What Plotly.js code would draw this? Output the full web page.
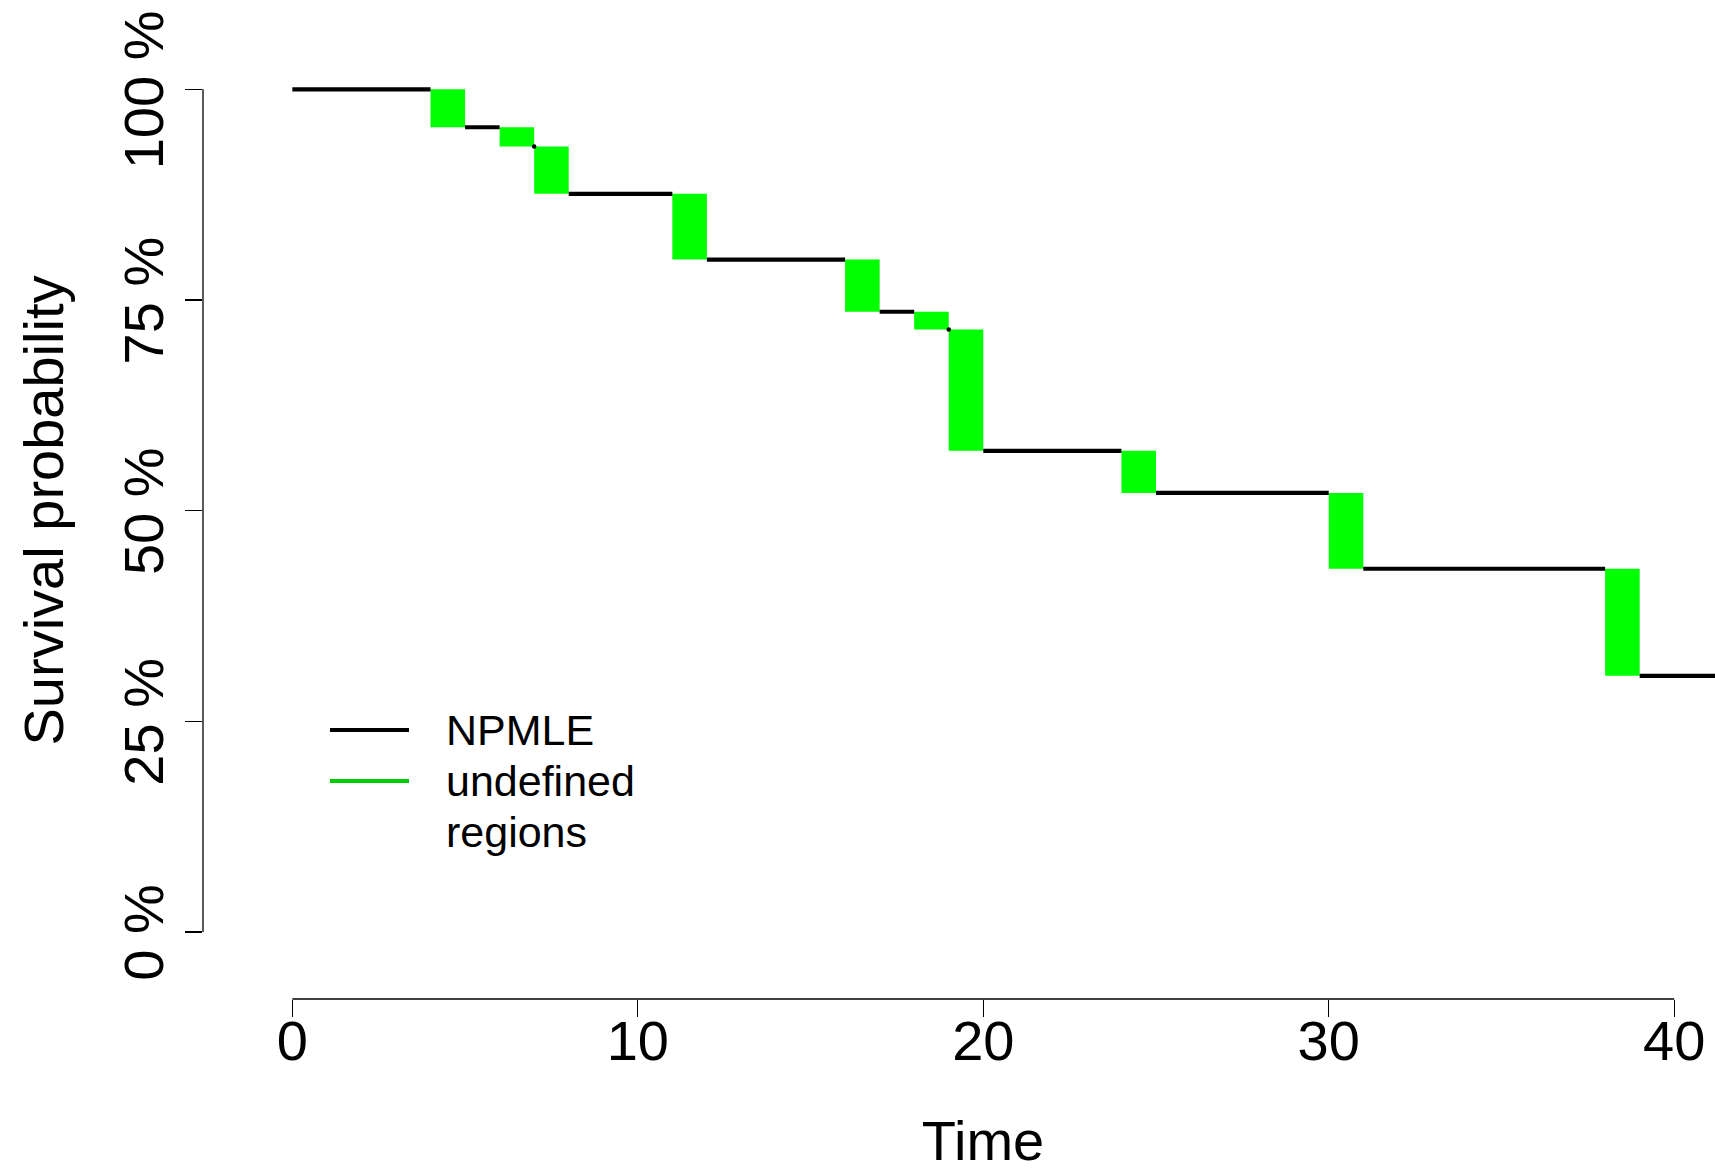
<!DOCTYPE html>
<html>
<head>
<meta charset="utf-8">
<script src="https://cdn.plot.ly/plotly-3.0.1.min.js"></script>
<style>
  html, body { margin: 0; padding: 0; background: #ffffff; }
  #frame { width: 1715px; height: 1172px; overflow: hidden; position: relative; }
  #chart { width: 1763px; height: 1172px; }
</style>
</head>
<body>
<div id="frame"><div id="chart"></div></div>
<script>
// ---- Data ----
// Undefined regions (intervals where the NPMLE drops), in Time units
const regionStart = [4, 6, 7, 11, 16, 18, 19, 24, 30, 38];
const regionEnd   = [5, 7, 8, 12, 17, 19, 20, 25, 31, 39];
// Survival level (%) before the first region and after each region
const survivalLevels = [100, 95.5, 93.2, 87.6, 79.8, 73.6, 71.5, 57.1, 52.1, 43.1, 30.4];
const startTime = 0;
const endTime = 45;   // last step continues past the visible edge
// Axis ticks
const xTicks = [0, 10, 20, 30, 40];
const yTicks = [0, 25, 50, 75, 100];
const yTickLabels = ['0 %', '25 %', '50 %', '75 %', '100 %'];
// Legend labels
const legendLabels = ['NPMLE', 'undefined', 'regions'];

// ---- Build NPMLE step segments ----
const lineX = [], lineY = [], dotX = [], dotY = [];
for (let k = 0; k < survivalLevels.length; k++) {
  const x0 = k === 0 ? startTime : regionEnd[k - 1];
  const x1 = k < regionStart.length ? regionStart[k] : endTime;
  lineX.push(x0, x1, null);
  lineY.push(survivalLevels[k], survivalLevels[k], null);
  if (x0 === x1) { dotX.push(x0); dotY.push(survivalLevels[k]); }
}

const traces = [
  {
    type: 'scatter', mode: 'lines', x: lineX, y: lineY,
    line: { color: '#000000', width: 4.2 }, hoverinfo: 'skip', name: 'NPMLE'
  },
  {
    type: 'scatter', mode: 'markers', x: dotX, y: dotY,
    marker: { color: '#000000', size: 4.5 }, hoverinfo: 'skip', name: 'NPMLE'
  }
];

// ---- Green undefined-region rectangles ----
const shapes = [];
for (let i = 0; i < regionStart.length; i++) {
  shapes.push({
    type: 'rect', xref: 'x', yref: 'y', layer: 'below',
    x0: regionStart[i], x1: regionEnd[i],
    y0: survivalLevels[i + 1], y1: survivalLevels[i],
    fillcolor: '#00FF00', line: { width: 0 }
  });
}

// R-style axis lines spanning first to last tick only
shapes.push({
  type: 'line', xref: 'paper', yref: 'y', x0: 0, x1: 0,
  y0: yTicks[0], y1: yTicks[yTicks.length - 1],
  line: { color: '#000000', width: 1.3 }
});
shapes.push({
  type: 'line', xref: 'x', yref: 'paper', y0: 0, y1: 0,
  x0: xTicks[0], x1: xTicks[xTicks.length - 1],
  line: { color: '#000000', width: 1.3 }
});

// ---- Manual legend (R style) ----
const W = 1763, H = 1172, mL = 203, mR = 0, mT = 22, mB = 173;
const plotW = W - mL - mR, plotH = H - mT - mB;
const px = v => (v - mL) / plotW;
const py = v => (H - mB - v) / plotH;

shapes.push({
  type: 'line', xref: 'paper', yref: 'paper',
  x0: px(330), x1: px(409), y0: py(730), y1: py(730),
  line: { color: '#000000', width: 4.2 }
});
shapes.push({
  type: 'line', xref: 'paper', yref: 'paper',
  x0: px(330), x1: px(409), y0: py(781), y1: py(781),
  line: { color: '#00CD00', width: 4.2 }
});

const legendFont = { family: 'Liberation Sans, Arial, Helvetica, sans-serif', size: 43, color: '#000000' };
const legendY = [730, 781, 832];
const annotations = legendLabels.map((t, i) => ({
  xref: 'paper', yref: 'paper', x: px(444), y: py(legendY[i]),
  xanchor: 'left', yanchor: 'middle', showarrow: false,
  text: t, font: legendFont
}));

const baseFont = { family: 'Liberation Sans, Arial, Helvetica, sans-serif', size: 56, color: '#000000' };

const layout = {
  width: W, height: H,
  margin: { l: mL, r: mR, t: mT, b: mB, pad: 0 },
  paper_bgcolor: '#ffffff', plot_bgcolor: '#ffffff',
  showlegend: false,
  font: baseFont,
  xaxis: {
    range: [-2.586, 42.57],
    tickmode: 'array', tickvals: xTicks, ticktext: xTicks.map(String),
    ticks: 'outside', ticklen: 17, tickwidth: 1.3, tickcolor: '#000000',
    ticklabelstandoff: -24,
    showline: false, showgrid: false, zeroline: false,
    tickfont: baseFont, automargin: false,
    title: { text: 'Time', font: baseFont, standoff: 69 }
  },
  yaxis: {
    range: [-7.96, 107.99],
    tickmode: 'array', tickvals: yTicks, ticktext: yTickLabels,
    tickangle: -90, ticklabelshift: 9,
    ticks: 'outside', ticklen: 17, tickwidth: 1.3, tickcolor: '#000000',
    showline: false, showgrid: false, zeroline: false,
    tickfont: baseFont, automargin: false,
    title: { text: 'Survival probability', font: baseFont, standoff: 29 }
  },
  shapes: shapes,
  annotations: annotations
};

Plotly.newPlot('chart', traces, layout, { staticPlot: true, displayModeBar: false });
</script>
</body>
</html>
